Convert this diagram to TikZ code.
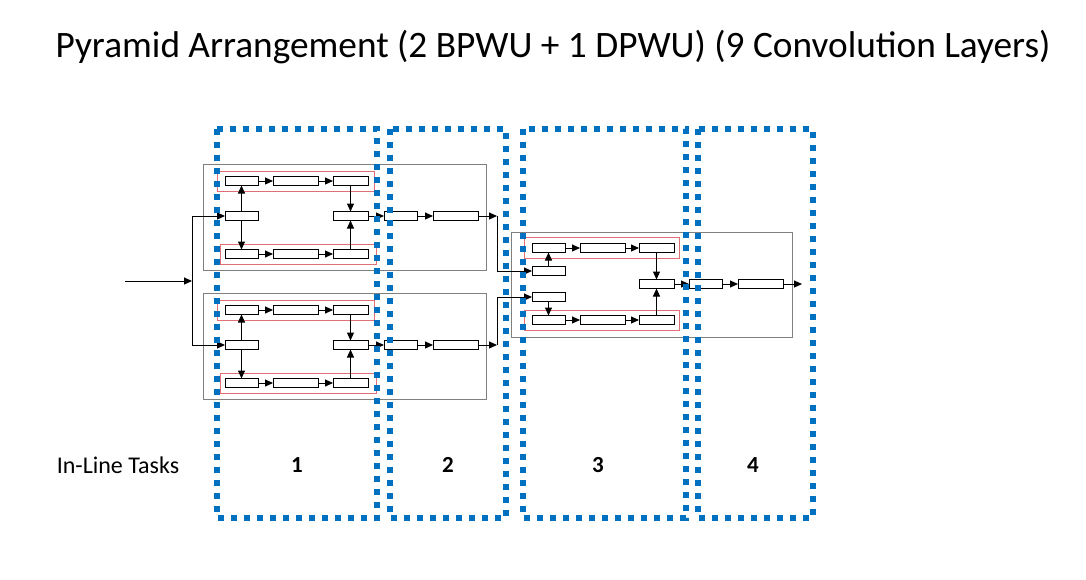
\documentclass[tikz,border=0pt]{standalone}
\usepackage{fontspec}
\setmainfont{Carlito}
\usetikzlibrary{arrows.meta}
\definecolor{stageblue}{RGB}{0,112,192}
\definecolor{lanered}{RGB}{226,110,120}
\begin{document}
\begin{tikzpicture}[x=1pt, y=-1pt,
  blk/.style={draw=black, line width=1pt, rectangle, fill=white,
              minimum width=33pt, minimum height=9pt,
              inner sep=0pt, outer sep=0pt, anchor=center},
  lng/.style={blk, minimum width=45pt},
  rgt/.style={blk, minimum width=35pt},
  arr/.style={-{Triangle[length=8pt, width=7pt]}, line width=1pt},
  wire/.style={line width=1pt},
  unit/.style={draw=black!50, line width=1pt},
  lane/.style={draw=lanered, line width=1pt},
  stage/.style={draw=stageblue, line width=6pt,
                dash pattern=on 6pt off 7pt},
  lbl/.style={font=\fontsize{24}{28}\selectfont},
  num/.style={font=\fontsize{23}{27}\selectfont\bfseries},
]
\useasboundingbox (0,0) rectangle (1086,579);
% Title
\node[font=\fontsize{37.3}{44}\selectfont] (title) at (553,47)
  {Pyramid Arrangement (2 BPWU + 1 DPWU) (9 Convolution Layers)};
% Two BPWU blocks (a = top, b = bottom)
\foreach \n/\dy in {a/0, b/129} {
  \draw[unit] (203,164+\dy) rectangle (486,270+\dy);
  \draw[lane] (217,171+\dy) rectangle (374,191+\dy);
  \draw[lane] (220,244+\dy) rectangle (376,264+\dy);
  % upper lane
  \node[blk] (\n u1) at (241.5,181+\dy) {};
  \node[lng] (\n u2) at (295.5,181+\dy) {};
  \node[rgt] (\n u3) at (350.5,181+\dy) {};
  % split / merge
  \node[blk] (\n m1) at (241.5,216+\dy) {};
  \node[rgt] (\n m2) at (350.5,216+\dy) {};
  % lower lane
  \node[blk] (\n l1) at (241.5,254+\dy) {};
  \node[lng] (\n l2) at (295.5,254+\dy) {};
  \node[rgt] (\n l3) at (350.5,254+\dy) {};
  % tail
  \node[blk] (\n o1) at (400.5,216+\dy) {};
  \node[lng] (\n o2) at (455.5,216+\dy) {};
  \coordinate (\n j) at (497,216+\dy);
  \draw[arr] (\n u1) -- (\n u2);
  \draw[arr] (\n u2) -- (\n u3);
  \draw[arr] (\n l1) -- (\n l2);
  \draw[arr] (\n l2) -- (\n l3);
  \draw[arr] (\n m1) -- (\n u1);
  \draw[arr] (\n m1) -- (\n l1);
  \draw[arr] (\n u3) -- (\n m2);
  \draw[arr] (\n l3) -- (\n m2);
  \draw[arr] (\n m2) -- (\n o1);
  \draw[arr] (\n o1) -- (\n o2);
  \draw[arr] (\n o2) -- (\n j);
}
% Input fork
\coordinate (src) at (125,281);
\coordinate (fork) at (192,281);
\draw[arr] (src) -- (fork);
\draw[wire] (fork |- am1) -- (fork |- bm1);
\draw[arr] (fork |- am1) -- (am1);
\draw[arr] (fork |- bm1) -- (bm1);
% DPWU block
\draw[unit] (511,232) rectangle (792,337);
\draw[lane] (524,237) rectangle (679,258);
\draw[lane] (524,310) rectangle (679,330);
\node[blk] (du1) at (548.5,248) {};
\node[lng] (du2) at (602.5,248) {};
\node[rgt] (du3) at (656.5,248) {};
\node[blk] (dm1) at (548.5,271) {};
\node[blk] (dm2) at (548.5,297) {};
\node[rgt] (dmx) at (656.5,284) {};
\node[blk] (dl1) at (548.5,320) {};
\node[lng] (dl2) at (602.5,320) {};
\node[rgt] (dl3) at (656.5,320) {};
\node[blk] (do1) at (705.5,284) {};
\node[lng] (do2) at (760.5,284) {};
\coordinate (sink) at (802,284);
\draw[arr] (aj) |- (dm1);
\draw[arr] (bj) |- (dm2);
\draw[arr] (du1) -- (du2);
\draw[arr] (du2) -- (du3);
\draw[arr] (dl1) -- (dl2);
\draw[arr] (dl2) -- (dl3);
\draw[arr] (dm1) -- (du1);
\draw[arr] (dm2) -- (dl1);
\draw[arr] (du3) -- (dmx);
\draw[arr] (dl3) -- (dmx);
\draw[arr] (dmx) -- (do1);
\draw[arr] (do1) -- (do2);
\draw[arr] (do2) -- (sink);
% Pipeline stages
\foreach \i/\xa/\xb/\xt in {1/217/377/297, 2/390/506/448,
                            3/523/686/598, 4/698/813/753} {
  \draw[stage] (\xa,129) rectangle (\xb,518);
  \node[num] (s\i) at (\xt,465) {\i};
}
\node[lbl] (tasks) at (118,465) {In-Line Tasks};
\end{tikzpicture}
\end{document}
